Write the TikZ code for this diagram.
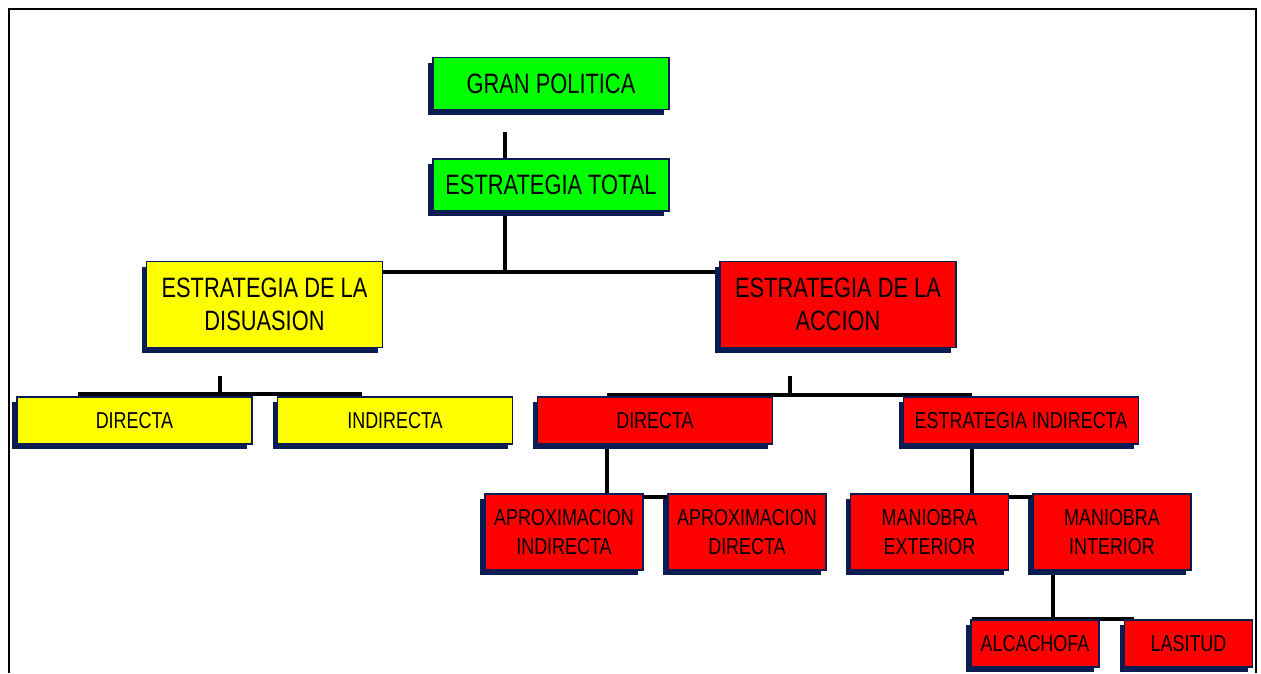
\documentclass[tikz,border=0pt]{standalone}
\usepackage{fontspec}
\setmainfont{Liberation Sans}[FakeStretch=0.78]
\usetikzlibrary{shadows, backgrounds}
\definecolor{boxNavy}{HTML}{0B1C52}
\definecolor{boxGreen}{HTML}{00FF00}
\definecolor{boxYellow}{HTML}{FFFF00}
\definecolor{boxRed}{HTML}{FF0000}
\tikzset{
  box/.style       = {draw=boxNavy, line width=1.2pt, inner sep=0pt, align=center, text=black,
                      drop shadow={shadow xshift=-5pt, shadow yshift=-5pt,
                                   fill=boxNavy, opacity=1}},
  bigbox/.style    = {box, font=\fontsize{28}{33}\selectfont, minimum width=236pt},
  smallbox/.style  = {box, font=\fontsize{23}{29}\selectfont},
  greenbox/.style  = {bigbox, fill=boxGreen, minimum height=52pt},
  headbox/.style   = {bigbox, minimum height=86pt},
  rowbox/.style    = {smallbox, minimum width=235pt, minimum height=47pt},
  pairbox/.style   = {smallbox, minimum width=158pt, minimum height=76pt, fill=boxRed},
  leafbox/.style   = {smallbox, minimum width=128pt, minimum height=47pt, fill=boxRed},
  conn/.style      = {line width=4pt, black},
  frame/.style     = {line width=2.5pt, black},
}

\begin{document}
\begin{tikzpicture}[x=1pt,y=-1pt]
  \useasboundingbox (0,0) rectangle (1261,673);
  \draw[frame] (9,673) -- (9,9) -- (1256,9) -- (1256,673);

  \node[greenbox] (gp) at (551,83.5) {GRAN POLITICA};
  \node[greenbox] (et) at (551,185) {ESTRATEGIA TOTAL};
  % second level
  \node[headbox, fill=boxYellow] (dis) at (264.5,304.5) {ESTRATEGIA DE LA\\DISUASION};
  \node[headbox, fill=boxRed] (acc) at (838,304.5) {ESTRATEGIA DE LA\\ACCION};
  % third level
  \node[rowbox, fill=boxYellow] (dirY) at (134.5,420.5) {DIRECTA};
  \node[rowbox, fill=boxYellow] (indY) at (395,420.5) {INDIRECTA};
  \node[rowbox, fill=boxRed] (dirR) at (655,420.5) {DIRECTA};
  \node[rowbox, fill=boxRed] (eiR) at (1021,420.5) {ESTRATEGIA INDIRECTA};
  % fourth level
  \node[pairbox] (ai) at (564,532) {APROXIMACION\\INDIRECTA};
  \node[pairbox] (ad) at (747,532) {APROXIMACION\\DIRECTA};
  \node[pairbox] (me) at (929.5,532) {MANIOBRA\\EXTERIOR};
  \node[pairbox] (mi) at (1112,532) {MANIOBRA\\INTERIOR};
  \node[leafbox] (alc) at (1035,643.5) {ALCACHOFA};
  \node[leafbox] (las) at (1188.5,643.5) {LASITUD};

  \coordinate (j1) at (505,272);
  \coordinate (j2a) at (220,376); \coordinate (j2) at (220,394);
  \coordinate (j2l) at (78,394);  \coordinate (j2r) at (362,394);
  \coordinate (j3a) at (790,376); \coordinate (j3) at (790,395);
  \coordinate (j3l) at (607,395); \coordinate (j3r) at (972,395);
  \coordinate (j4) at (607,497);
  \coordinate (j5) at (972,497);
  \coordinate (j6) at (1053,619);
  \coordinate (j6l) at (972,619); \coordinate (j6r) at (1134,619);

  % connectors behind the boxes
  \begin{scope}[on background layer]
    \draw[conn] ([xshift=-46pt,yshift=-22pt]gp.south) -- ([xshift=-46pt]et.north);
    \draw[conn] (et.south -| j1) -- (j1);
    \draw[conn] (dis.east |- j1) -- (acc.west |- j1);
    \draw[conn] (j2a) -- (j2);
    \draw[conn] (j2l) -- (j2r);
    \draw[conn] (j3a) -- (j3);
    \draw[conn] (j3l) -- (j3r);
    \draw[conn] (dirR.south -| j4) -- (j4) -- (ad.west |- j4);
    \draw[conn] (eiR.south -| j5) -- (j5) -- (mi.west |- j5);
    \draw[conn] (mi.south -| j6) -- (j6);
    \draw[conn] (j6l) -- (j6r);
  \end{scope}
\end{tikzpicture}
\end{document}
